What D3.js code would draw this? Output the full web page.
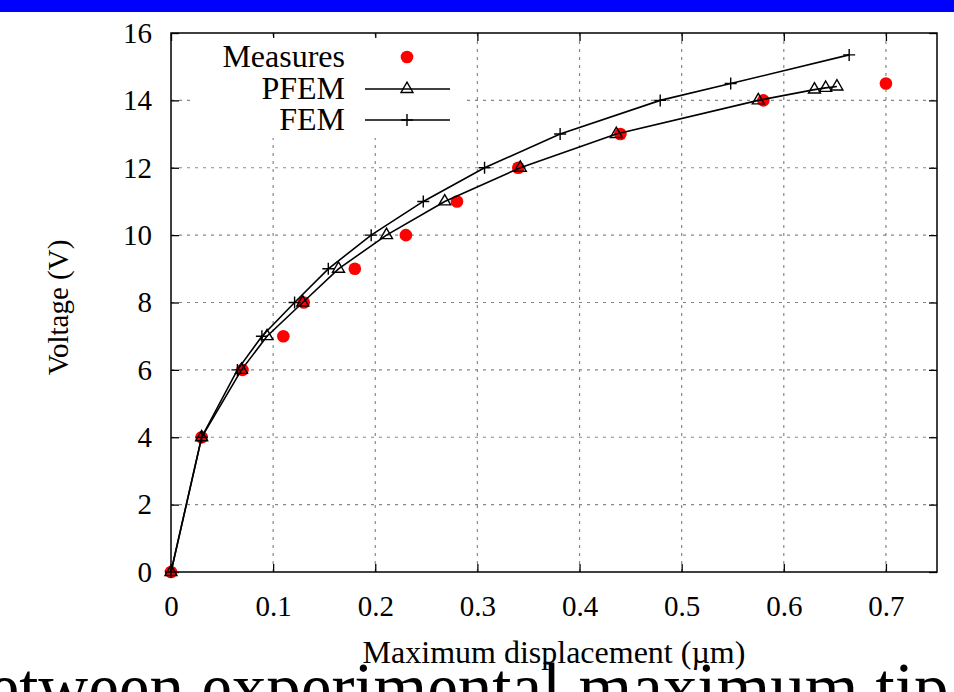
<!DOCTYPE html>
<html lang="en">
<head>
    <meta charset="UTF-8">
    <title>Voltage vs maximum displacement</title>
    <script src="https://cdn.jsdelivr.net/npm/d3@7"></script>
    <style>
        body { margin: 0; background: #fff; }
        svg { display: block; }
        text { font-family: "Liberation Serif", "DejaVu Serif", serif; fill: #000; }
        .grid line { stroke: #888; stroke-width: 1.2; stroke-dasharray: 3 5; }
        .axis path { display: none; }
        .axis line { stroke: #000; stroke-width: 1.3; }
        .axis text { font-size: 29px; }
    </style>
</head>
<body>
<script>
    // measured and simulated data
    const measX = [0, 0.03, 0.07, 0.11, 0.13, 0.18, 0.23, 0.28, 0.34, 0.44, 0.58, 0.70];
    const measV = [0, 4, 6, 7, 8, 9, 10, 11, 12, 13, 14, 14.5];

    const pfemX = [0, 0.03, 0.069, 0.094, 0.129, 0.164, 0.211, 0.268, 0.342, 0.436, 0.575, 0.630, 0.641, 0.652];
    const pfemV = [0, 4, 6, 7, 8, 9, 10, 11, 12, 13, 14, 14.32, 14.37, 14.41];

    const femX = [0, 0.03, 0.065, 0.089, 0.121, 0.154, 0.196, 0.247, 0.307, 0.381, 0.479, 0.548, 0.664];
    const femV = [0, 4, 6, 7, 8, 9, 10, 11, 12, 13, 14, 14.5, 15.35];

    const xTicks = [0, 0.1, 0.2, 0.3, 0.4, 0.5, 0.6, 0.7];
    const yTicks = [0, 2, 4, 6, 8, 10, 12, 14, 16];
    const legendNames = ['Measures', 'PFEM', 'FEM'];

    const W = 954, H = 692;
    const pLeft = 171, pRight = 937, pTop = 33, pBottom = 572;

    const svg = d3.select('body').append('svg')
        .attr('width', W)
        .attr('height', H);

    // slide header bar
    svg.append('rect')
        .attr('x', 0).attr('y', 0)
        .attr('width', W).attr('height', 12)
        .attr('fill', '#0000ff');

    const x = d3.scaleLinear().domain([0, 0.75]).range([pLeft, pRight]);
    const y = d3.scaleLinear().domain([0, 16]).range([pBottom, pTop]);

    // grid
    const grid = svg.append('g').attr('class', 'grid');
    grid.selectAll('.gx')
        .data(xTicks.filter(d => d > 0))
        .enter().append('line')
        .attr('x1', d => x(d)).attr('x2', d => x(d))
        .attr('y1', pBottom).attr('y2', pTop);
    grid.selectAll('.gy')
        .data(yTicks.filter(d => d > 0 && d < 16))
        .enter().append('line')
        .attr('x1', pLeft).attr('x2', pRight)
        .attr('y1', d => y(d)).attr('y2', d => y(d));

    // axes, ticks pointing inward
    const fmtX = d => d === 0 ? '0' : d3.format('.1f')(d);

    svg.append('g')
        .attr('class', 'axis')
        .attr('transform', `translate(0,${pBottom})`)
        .call(d3.axisBottom(x).tickValues(xTicks).tickFormat(fmtX)
            .tickSizeInner(-8).tickSizeOuter(0).tickPadding(23));

    svg.append('g')
        .attr('class', 'axis')
        .attr('transform', `translate(${pLeft},0)`)
        .call(d3.axisLeft(y).tickValues(yTicks).tickFormat(d3.format('d'))
            .tickSizeInner(-8).tickSizeOuter(0).tickPadding(19));

    svg.append('g')
        .attr('class', 'axis')
        .attr('transform', `translate(0,${pTop})`)
        .call(d3.axisTop(x).tickValues(xTicks).tickFormat('')
            .tickSizeInner(-8).tickSizeOuter(0));

    svg.append('g')
        .attr('class', 'axis')
        .attr('transform', `translate(${pRight},0)`)
        .call(d3.axisRight(y).tickValues(yTicks).tickFormat('')
            .tickSizeInner(-8).tickSizeOuter(0));

    // frame
    svg.append('rect')
        .attr('x', pLeft).attr('y', pTop)
        .attr('width', pRight - pLeft).attr('height', pBottom - pTop)
        .attr('fill', 'none')
        .attr('stroke', '#000')
        .attr('stroke-width', 1.5);

    // axis titles
    svg.append('text')
        .attr('x', (pLeft + pRight) / 2)
        .attr('y', 663)
        .attr('text-anchor', 'middle')
        .style('font-size', '32px')
        .text('Maximum displacement (µm)');

    svg.append('text')
        .attr('transform', `translate(68,${(pTop + pBottom) / 2 + 5}) rotate(-90)`)
        .attr('text-anchor', 'middle')
        .style('font-size', '29px')
        .text('Voltage (V)');

    // legend box (opaque, hides grid)
    const lg = svg.append('g');
    lg.append('rect')
        .attr('x', 192).attr('y', 38)
        .attr('width', 270).attr('height', 100)
        .attr('fill', '#fff');

    const line = d3.line().x(d => x(d[0])).y(d => y(d[1]));
    const tri = d3.symbol().type(d3.symbolTriangle).size(62);
    const plus = 'M-6,0H6M0,-6V6';

    // series
    const meas = measX.map((d, i) => [d, measV[i]]);
    const pfem = pfemX.map((d, i) => [d, pfemV[i]]);
    const fem = femX.map((d, i) => [d, femV[i]]);

    svg.append('g').selectAll('circle')
        .data(meas)
        .enter().append('circle')
        .attr('cx', d => x(d[0]))
        .attr('cy', d => y(d[1]))
        .attr('r', 6.3)
        .attr('fill', '#ff0000');

    svg.append('path')
        .datum(pfem)
        .attr('d', line)
        .attr('fill', 'none')
        .attr('stroke', '#000')
        .attr('stroke-width', 1.6);

    svg.append('g').selectAll('path')
        .data(pfem)
        .enter().append('path')
        .attr('transform', d => `translate(${x(d[0])},${y(d[1])})`)
        .attr('d', tri)
        .attr('fill', 'none')
        .attr('stroke', '#000')
        .attr('stroke-width', 1.4);

    svg.append('path')
        .datum(fem)
        .attr('d', line)
        .attr('fill', 'none')
        .attr('stroke', '#000')
        .attr('stroke-width', 1.6);

    svg.append('g').selectAll('path')
        .data(fem)
        .enter().append('path')
        .attr('transform', d => `translate(${x(d[0])},${y(d[1])})`)
        .attr('d', plus)
        .attr('fill', 'none')
        .attr('stroke', '#000')
        .attr('stroke-width', 1.4);

    // legend entries
    const rows = [57, 89, 120];
    legendNames.forEach((name, i) => {
        lg.append('text')
            .attr('x', 345)
            .attr('y', rows[i] + 10)
            .attr('text-anchor', 'end')
            .style('font-size', '32px')
            .text(name);
    });
    lg.append('circle')
        .attr('cx', 407).attr('cy', rows[0])
        .attr('r', 6.3).attr('fill', '#ff0000');
    [1, 2].forEach(i => {
        lg.append('line')
            .attr('x1', 365).attr('x2', 450)
            .attr('y1', rows[i]).attr('y2', rows[i])
            .attr('stroke', '#000').attr('stroke-width', 1.6);
    });
    lg.append('path')
        .attr('transform', `translate(407,${rows[1]})`)
        .attr('d', tri)
        .attr('fill', 'none').attr('stroke', '#000').attr('stroke-width', 1.4);
    lg.append('path')
        .attr('transform', `translate(407,${rows[2]})`)
        .attr('d', plus)
        .attr('fill', 'none').attr('stroke', '#000').attr('stroke-width', 1.4);

    // slide caption, cut by the bottom edge
    svg.append('text')
        .attr('x', -46)
        .attr('y', 711)
        .style('font-size', '69px')
        .text('between experimental maximum tip displacement');
</script>
</body>
</html>
